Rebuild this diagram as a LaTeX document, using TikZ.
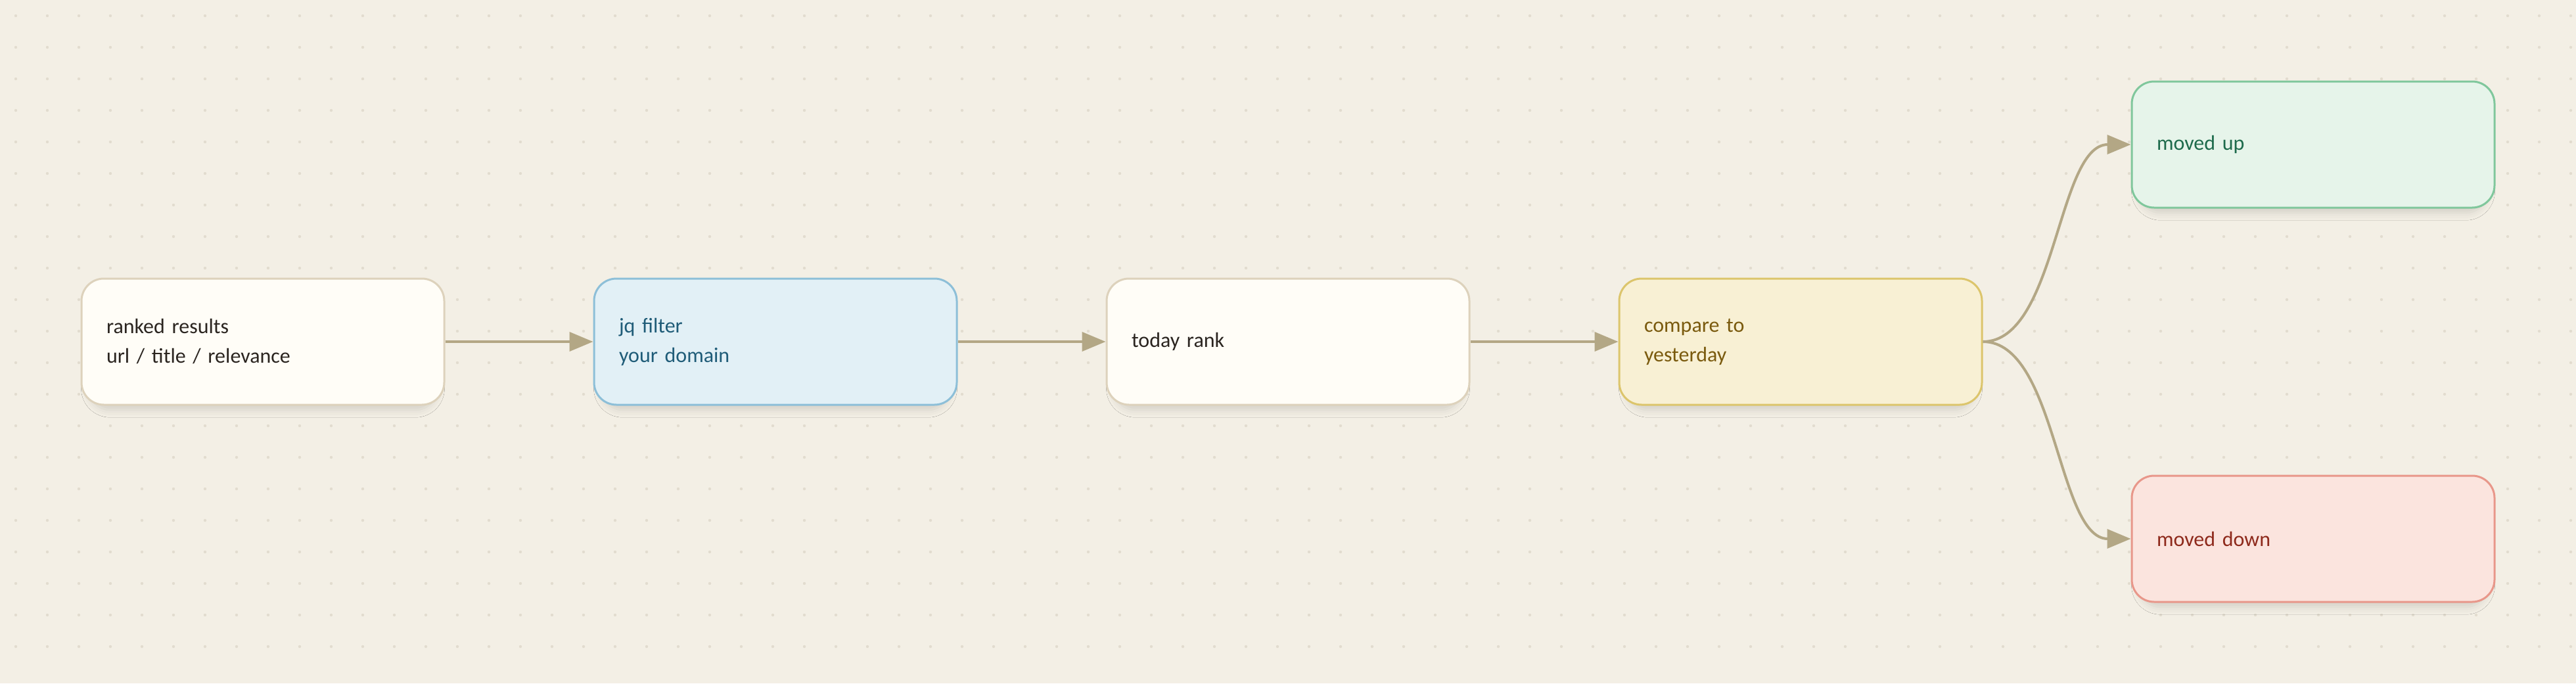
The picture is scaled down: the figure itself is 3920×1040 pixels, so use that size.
\documentclass[tikz,border=0pt]{standalone}
\usepackage{fontspec}
\setmainfont{Carlito}
\usepackage{tikz}
\usetikzlibrary{arrows.meta,positioning,shadows.blur}

\definecolor{paper}{HTML}{F3EFE5}
\definecolor{dotc}{HTML}{E2DCCF}
\definecolor{wire}{HTML}{B3A785}
\definecolor{plainfill}{HTML}{FFFDF7}
\definecolor{plainline}{HTML}{DDD2BC}
\definecolor{plaintext}{HTML}{2B2520}
\definecolor{bluefill}{HTML}{E2F0F6}
\definecolor{blueline}{HTML}{8DBFD8}
\definecolor{bluetext}{HTML}{1F5C78}
\definecolor{goldfill}{HTML}{F8F0D4}
\definecolor{goldline}{HTML}{DCC56C}
\definecolor{goldtext}{HTML}{7A5A0E}
\definecolor{greenfill}{HTML}{E6F4EA}
\definecolor{greenline}{HTML}{80C79C}
\definecolor{greentext}{HTML}{1E6B4C}
\definecolor{redfill}{HTML}{FBE4DE}
\definecolor{redline}{HTML}{E8978A}
\definecolor{redtext}{HTML}{8E2A1C}

\begin{document}
\begin{tikzpicture}[x=0.5pt,y=-0.5pt,node distance=112.5pt,
	box/.style={rectangle,rounded corners=17pt,line width=1.5pt,align=left,text width=238pt,inner xsep=19pt,inner ysep=0pt,minimum height=96pt,font=\fontsize{16pt}{22.5pt}\selectfont,blur shadow={shadow xshift=0pt,shadow yshift=-6pt,shadow scale=0.96,shadow blur radius=6pt,shadow opacity=13}},
	plain/.style={box,fill=plainfill,draw=plainline,text=plaintext},
	blue/.style={box,fill=bluefill,draw=blueline,text=bluetext},
	gold/.style={box,fill=goldfill,draw=goldline,text=goldtext},
	green/.style={box,fill=greenfill,draw=greenline,text=greentext},
	red/.style={box,fill=redfill,draw=redline,text=redtext},
	link/.style={draw=wire,line width=2pt,-{Triangle[length=18pt,width=14.5pt]}}]
	\fill[paper] (0,0) rectangle (3920,1040);
	\useasboundingbox (0,0) rectangle (3920,1040);
	\foreach \i in {0,...,81}
		\foreach \j in {0,...,20}
			\fill[dotc] (24+48*\i,24+48*\j) circle (1.1pt);
	\node[plain] (results) at (400,520) {ranked results\\url / title / relevance};
	\node[blue,right=of results] (filter) {jq filter\\your domain};
	\node[plain,right=of filter] (today) {today rank};
	\node[gold,right=of today] (compare) {compare to\\yesterday};
	\node[green,right=of compare,yshift=150pt] (up) {moved up};
	\node[red,right=of compare,yshift=-150pt] (down) {moved down};
	\draw[link] (results) -- (filter);
	\draw[link] (filter) -- (today);
	\draw[link] (today) -- (compare);
	\draw[link] (compare.east) .. controls +(112,0) and +(-112,0) .. (up.west);
	\draw[link] (compare.east) .. controls +(112,0) and +(-112,0) .. (down.west);
\end{tikzpicture}
\end{document}
